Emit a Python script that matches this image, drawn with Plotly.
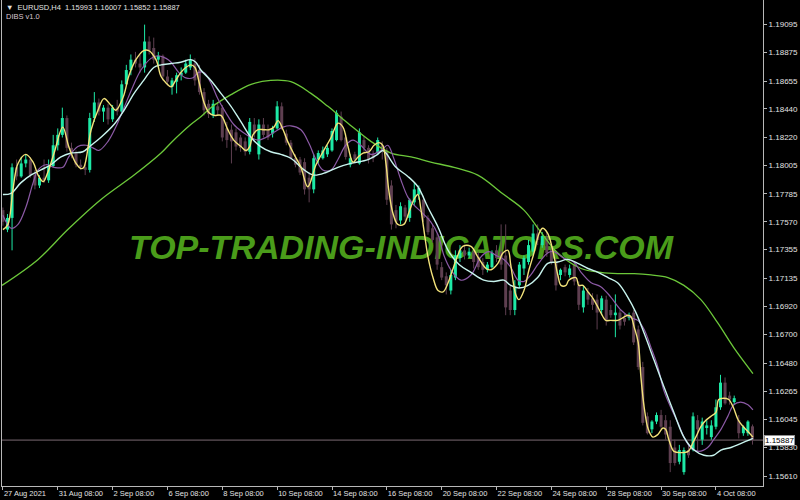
import plotly.graph_objects as go

# EURUSD H4 candles (bar index 0 = 27 Aug 2021 08:00)
opens = [
    1.1766, 1.1751, 1.1760, 1.1799, 1.1792, 1.1802, 1.1805, 1.1793, 1.1785, 1.1791,
    1.1789, 1.1800, 1.1816, 1.1824, 1.1837, 1.1814, 1.1810, 1.1801, 1.1799, 1.1797,
    1.1837, 1.1849, 1.1842, 1.1845, 1.1836, 1.1845, 1.1842, 1.1863, 1.1874, 1.1882,
    1.1879, 1.1876, 1.1896, 1.1891, 1.1882, 1.1885, 1.1869, 1.1861, 1.1865, 1.1870,
    1.1872, 1.1876, 1.1879, 1.1874, 1.1857, 1.1848, 1.1839, 1.1846, 1.1845, 1.1829,
    1.1828, 1.1826, 1.1822, 1.1819, 1.1811, 1.1832, 1.1809, 1.1832, 1.1828, 1.1825,
    1.1829, 1.1846, 1.1825, 1.1818, 1.1806, 1.1805, 1.1803, 1.1791, 1.1782, 1.1805,
    1.1806, 1.1809, 1.1812, 1.1820, 1.1838, 1.1822, 1.1801, 1.1809, 1.1802, 1.1820,
    1.1814, 1.1809, 1.1810, 1.1816, 1.1812, 1.1785, 1.1766, 1.1758, 1.1768, 1.1760,
    1.1772, 1.1778, 1.1774, 1.1760, 1.1752, 1.1745, 1.1722, 1.1715, 1.1704, 1.1714,
    1.1729, 1.1735, 1.1731, 1.1734, 1.1730, 1.1726, 1.1720, 1.1722, 1.1735, 1.1734,
    1.1731, 1.1704, 1.1689, 1.1708, 1.1721, 1.1726, 1.1734, 1.1748, 1.1739, 1.1745,
    1.1735, 1.1726, 1.1716, 1.1722, 1.1716, 1.1724, 1.1708, 1.1691, 1.1703, 1.1698,
    1.1697, 1.1689, 1.1697, 1.1689, 1.1685, 1.1687, 1.1683, 1.1683, 1.1687, 1.1674,
    1.1645, 1.1607, 1.1597, 1.1603, 1.1608, 1.1604, 1.1599, 1.1583, 1.1572, 1.1564,
    1.1581, 1.1581, 1.1604, 1.1589, 1.1598, 1.1591, 1.1599, 1.1614, 1.1633, 1.1623,
    1.1618, 1.1604, 1.1594, 1.1594, 1.15993,
]
highs = [
    1.1768, 1.1763, 1.1802, 1.1805, 1.1807, 1.1809, 1.1807, 1.1797, 1.1793, 1.1805,
    1.1805, 1.1824, 1.1829, 1.1845, 1.1839, 1.1818, 1.1812, 1.1805, 1.1802, 1.1841,
    1.1857, 1.1852, 1.1847, 1.1848, 1.1847, 1.1851, 1.1866, 1.1878, 1.1886, 1.1888,
    1.1886, 1.1909, 1.1900, 1.1899, 1.1888, 1.1886, 1.1874, 1.1868, 1.1872, 1.1876,
    1.1882, 1.1886, 1.1883, 1.1878, 1.1860, 1.1851, 1.1851, 1.1849, 1.1847, 1.1834,
    1.1832, 1.1829, 1.1824, 1.1822, 1.1837, 1.1837, 1.1836, 1.1837, 1.1832, 1.1831,
    1.1850, 1.1849, 1.1828, 1.1820, 1.1809, 1.1807, 1.1806, 1.1795, 1.1809, 1.1812,
    1.1815, 1.1816, 1.1829, 1.1843, 1.1842, 1.1825, 1.1809, 1.1811, 1.1829, 1.1823,
    1.1816, 1.1812, 1.1822, 1.1819, 1.1814, 1.1789, 1.1770, 1.1772, 1.1770, 1.1775,
    1.1787, 1.1785, 1.1777, 1.1762, 1.1755, 1.1748, 1.1726, 1.1718, 1.1720, 1.1735,
    1.1739, 1.1739, 1.1737, 1.1737, 1.1734, 1.1729, 1.1726, 1.1735, 1.1739, 1.1755,
    1.1755, 1.1708, 1.1712, 1.1726, 1.1731, 1.1743, 1.1755, 1.1755, 1.1749, 1.1749,
    1.1739, 1.1729, 1.1721, 1.1724, 1.1724, 1.1726, 1.1711, 1.1708, 1.1706, 1.1702,
    1.1701, 1.1700, 1.1700, 1.1693, 1.1701, 1.1689, 1.1686, 1.1687, 1.1689, 1.1677,
    1.1649, 1.1610, 1.1604, 1.1610, 1.1612, 1.1608, 1.1604, 1.1589, 1.1585, 1.1583,
    1.1585, 1.1610, 1.1608, 1.1606, 1.1604, 1.1604, 1.1620, 1.1639, 1.1637, 1.1626,
    1.1623, 1.1608, 1.1600, 1.1604, 1.16007,
]
lows = [
    1.1754, 1.1749, 1.1735, 1.1789, 1.1791, 1.1799, 1.1791, 1.1782, 1.1783, 1.1787,
    1.1787, 1.1799, 1.1812, 1.1822, 1.1811, 1.1806, 1.1799, 1.1797, 1.1793, 1.1795,
    1.1834, 1.1839, 1.1834, 1.1832, 1.1834, 1.1839, 1.1841, 1.1862, 1.1870, 1.1876,
    1.1872, 1.1872, 1.1886, 1.1879, 1.1876, 1.1866, 1.1862, 1.1855, 1.1856, 1.1866,
    1.1871, 1.1874, 1.1862, 1.1855, 1.1839, 1.1837, 1.1837, 1.1839, 1.1819, 1.1814,
    1.1802, 1.1812, 1.1811, 1.1808, 1.1809, 1.1822, 1.1805, 1.1822, 1.1820, 1.1822,
    1.1828, 1.1828, 1.1816, 1.1805, 1.1799, 1.1793, 1.1778, 1.1772, 1.1779, 1.1802,
    1.1805, 1.1807, 1.1811, 1.1819, 1.1819, 1.1805, 1.1799, 1.1803, 1.1801, 1.1811,
    1.1802, 1.1803, 1.1809, 1.1805, 1.1770, 1.1751, 1.1752, 1.1755, 1.1758, 1.1757,
    1.1770, 1.1774, 1.1757, 1.1747, 1.1741, 1.1720, 1.1712, 1.1701, 1.1701, 1.1712,
    1.1726, 1.1728, 1.1729, 1.1721, 1.1720, 1.1716, 1.1718, 1.1721, 1.1726, 1.1720,
    1.1685, 1.1685, 1.1685, 1.1706, 1.1716, 1.1724, 1.1731, 1.1739, 1.1737, 1.1730,
    1.1724, 1.1704, 1.1712, 1.1715, 1.1714, 1.1708, 1.1689, 1.1687, 1.1693, 1.1689,
    1.1674, 1.1685, 1.1677, 1.1683, 1.1668, 1.1674, 1.1677, 1.1681, 1.1662, 1.1643,
    1.1600, 1.1593, 1.1594, 1.1601, 1.1597, 1.1589, 1.1564, 1.1569, 1.1570, 1.1562,
    1.1575, 1.1580, 1.1580, 1.1585, 1.1593, 1.1589, 1.1597, 1.1612, 1.1616, 1.1616,
    1.1616, 1.1590, 1.1592, 1.1592, 1.15852,
]
closes = [
    1.1757, 1.1760, 1.1799, 1.1792, 1.1802, 1.1805, 1.1793, 1.1785, 1.1791, 1.1789,
    1.1800, 1.1816, 1.1824, 1.1837, 1.1814, 1.1810, 1.1801, 1.1799, 1.1797, 1.1837,
    1.1849, 1.1842, 1.1845, 1.1836, 1.1845, 1.1842, 1.1863, 1.1874, 1.1882, 1.1879,
    1.1876, 1.1896, 1.1889, 1.1882, 1.1885, 1.1869, 1.1865, 1.1866, 1.1870, 1.1872,
    1.1879, 1.1882, 1.1866, 1.1857, 1.1843, 1.1840, 1.1848, 1.1843, 1.1822, 1.1820,
    1.1819, 1.1815, 1.1814, 1.1811, 1.1834, 1.1825, 1.1832, 1.1824, 1.1822, 1.1829,
    1.1846, 1.1829, 1.1818, 1.1806, 1.1801, 1.1795, 1.1782, 1.1782, 1.1806, 1.1810,
    1.1812, 1.1814, 1.1827, 1.1841, 1.1820, 1.1807, 1.1806, 1.1805, 1.1826, 1.1814,
    1.1805, 1.1806, 1.1820, 1.1812, 1.1774, 1.1755, 1.1757, 1.1769, 1.1761, 1.1774,
    1.1782, 1.1783, 1.1760, 1.1749, 1.1743, 1.1724, 1.1714, 1.1708, 1.1716, 1.1731,
    1.1735, 1.1731, 1.1734, 1.1726, 1.1722, 1.1720, 1.1724, 1.1733, 1.1729, 1.1724,
    1.1691, 1.1689, 1.1707, 1.1724, 1.1729, 1.1739, 1.1748, 1.1743, 1.1746, 1.1733,
    1.1726, 1.1708, 1.1720, 1.1718, 1.1721, 1.1711, 1.1693, 1.1704, 1.1697, 1.1693,
    1.1687, 1.1698, 1.1681, 1.1685, 1.1687, 1.1677, 1.1680, 1.1685, 1.1664, 1.1645,
    1.1602, 1.1594, 1.1603, 1.1608, 1.1599, 1.1593, 1.1571, 1.1571, 1.1581, 1.1581,
    1.1577, 1.1607, 1.1597, 1.1603, 1.1600, 1.1600, 1.1614, 1.1633, 1.1617, 1.1620,
    1.1621, 1.1594, 1.1599, 1.1603, 1.15887,
]

# indicator lines (bar index, price)
yellow_x = [
    0, 1.1, 2.2, 3.3, 5.0, 6.6, 7.7, 8.8, 9.8, 11.2,
    13.1, 14.4, 16.0, 17.1, 17.7, 19.3, 20.8, 22.1, 23.6, 24.7,
    26.3, 27.6, 29.1, 30.8, 31.9, 33.5, 34.6, 35.7, 36.8, 37.8,
    38.9, 40.0, 41.1, 42.0, 42.9, 44.0, 45.1, 46.2, 47.7, 49.2,
    50.5, 52.1, 53.2, 54.0, 54.7, 55.8, 57.1, 58.2, 59.3, 60.2,
    61.3, 62.3, 63.7, 65.2, 66.7, 68.5, 70.2, 71.8, 73.3, 74.4,
    75.5, 76.6, 77.7, 78.8, 80.1, 81.2, 82.3, 83.1, 83.8, 84.4,
    85.3, 86.4, 87.7, 88.8, 89.9, 90.8, 91.4, 92.1, 93.0, 94.1,
    95.2, 96.3, 97.4, 98.4, 99.5, 100.6, 102.4, 103.9, 105.7, 106.8,
    108.3, 109.4, 110.5, 111.1, 112.2, 112.9, 114.0, 115.1, 116.2, 117.3,
    118.1, 119.2, 120.3, 121.4, 122.1, 123.2, 123.8, 125.4, 126.0, 126.9,
    128.0, 129.1, 130.2, 130.8, 131.9, 133.0, 134.5, 135.6, 136.7, 137.4,
    138.1, 139.0, 139.6, 140.3, 141.2, 142.2, 143.3, 144.4, 145.0, 145.7,
    146.8, 148.3, 149.9, 151.0, 151.6, 152.7, 153.8, 154.9, 156.0, 156.6,
    157.7, 158.8, 159.8, 160.9, 162.0, 163.1, 164.1,
]
yellow_y = [
    1.1751, 1.1755, 1.1782, 1.1802, 1.1809, 1.1803, 1.1793, 1.1788, 1.1795, 1.1810,
    1.1830, 1.1815, 1.1802, 1.1798, 1.1799, 1.1828, 1.1843, 1.1852, 1.1847, 1.1843,
    1.1853, 1.1870, 1.1882, 1.1889, 1.1889, 1.1882, 1.1869, 1.1864, 1.1861, 1.1866,
    1.1872, 1.1876, 1.1878, 1.1876, 1.1865, 1.1849, 1.1841, 1.1839, 1.1839, 1.1828,
    1.1820, 1.1815, 1.1812, 1.1815, 1.1824, 1.1828, 1.1828, 1.1828, 1.1830, 1.1835,
    1.1828, 1.1819, 1.1809, 1.1799, 1.1784, 1.1801, 1.1812, 1.1822, 1.1833, 1.1830,
    1.1815, 1.1803, 1.1807, 1.1810, 1.1811, 1.1816, 1.1818, 1.1816, 1.1802, 1.1782,
    1.1764, 1.1755, 1.1755, 1.1764, 1.1774, 1.1778, 1.1768, 1.1751, 1.1730, 1.1714,
    1.1704, 1.1703, 1.1710, 1.1720, 1.1731, 1.1738, 1.1738, 1.1730, 1.1721, 1.1720,
    1.1725, 1.1733, 1.1735, 1.1724, 1.1701, 1.1697, 1.1704, 1.1720, 1.1733, 1.1748,
    1.1752, 1.1748, 1.1735, 1.1716, 1.1708, 1.1708, 1.1712, 1.1714, 1.1708, 1.1708,
    1.1703, 1.1698, 1.1691, 1.1687, 1.1681, 1.1681, 1.1681, 1.1683, 1.1685, 1.1684,
    1.1676, 1.1664, 1.1637, 1.1614, 1.1597, 1.1591, 1.1593, 1.1598, 1.1597, 1.1589,
    1.1580, 1.1579, 1.1580, 1.1587, 1.1591, 1.1599, 1.1604, 1.1607, 1.1610, 1.1620,
    1.1621, 1.1620, 1.1614, 1.1604, 1.1599, 1.1595, 1.1591,
]

purple_x = [
    0, 1.8, 3.3, 5.0, 6.6, 7.7, 9.4, 11.2, 13.1, 14.4,
    16.4, 18.2, 19.7, 21.0, 23.0, 24.7, 26.5, 28.4, 30.2, 32.4,
    33.9, 35.7, 36.8, 38.5, 40.0, 41.6, 42.7, 44.0, 45.5, 47.0,
    48.8, 50.5, 52.5, 54.3, 55.8, 57.5, 59.3, 61.3, 63.0, 65.2,
    66.9, 68.5, 70.0, 71.8, 73.3, 75.0, 76.6, 78.3, 80.5, 82.7,
    84.2, 85.5, 87.1, 88.6, 89.9, 91.4, 93.6, 95.2, 96.5, 98.0,
    100.2, 102.4, 104.6, 106.3, 107.9, 109.6, 111.1, 112.7, 114.0, 115.5,
    117.0, 119.2, 120.5, 122.7, 124.9, 126.5, 128.7, 130.8, 133.0, 135.2,
    137.4, 138.9, 140.3, 141.8, 143.3, 144.6, 146.1, 147.7, 149.0, 150.5,
    152.3, 154.2, 155.5, 157.1, 158.6, 159.9, 161.4, 163.0, 164.1,
]
purple_y = [
    1.1762, 1.1752, 1.1755, 1.1768, 1.1787, 1.1797, 1.1801, 1.1799, 1.1799, 1.1807,
    1.1815, 1.1816, 1.1814, 1.1812, 1.1819, 1.1830, 1.1845, 1.1861, 1.1874, 1.1883,
    1.1885, 1.1883, 1.1880, 1.1872, 1.1868, 1.1868, 1.1872, 1.1872, 1.1864, 1.1852,
    1.1841, 1.1832, 1.1826, 1.1822, 1.1820, 1.1822, 1.1826, 1.1830, 1.1831, 1.1828,
    1.1818, 1.1805, 1.1797, 1.1797, 1.1805, 1.1816, 1.1820, 1.1816, 1.1809, 1.1812,
    1.1816, 1.1806, 1.1789, 1.1776, 1.1770, 1.1765, 1.1757, 1.1747, 1.1731, 1.1720,
    1.1712, 1.1716, 1.1730, 1.1734, 1.1731, 1.1728, 1.1722, 1.1712, 1.1711, 1.1716,
    1.1724, 1.1733, 1.1734, 1.1729, 1.1726, 1.1718, 1.1710, 1.1707, 1.1699, 1.1689,
    1.1683, 1.1681, 1.1674, 1.1660, 1.1645, 1.1627, 1.1614, 1.1602, 1.1591, 1.1583,
    1.1580, 1.1583, 1.1589, 1.1597, 1.1607, 1.1616, 1.1618, 1.1616, 1.1612,
]

cyan_x = [
    0, 1.8, 3.9, 6.1, 8.3, 10.5, 12.7, 14.9, 17.5, 19.3,
    21.4, 24.3, 26.5, 28.7, 30.8, 33.0, 34.6, 36.8, 38.9, 41.1,
    42.2, 43.3, 45.5, 47.7, 49.9, 52.1, 54.3, 56.4, 58.6, 60.8,
    63.0, 65.9, 68.0, 70.7, 73.3, 76.1, 79.9, 82.0, 83.1, 83.8,
    86.0, 88.6, 90.8, 93.0, 95.2, 97.4, 99.8, 102.4, 105.2, 107.4,
    109.6, 111.1, 112.9, 114.9, 117.0, 119.2, 121.4, 123.6, 125.8, 128.0,
    130.2, 132.4, 134.5, 136.7, 138.5, 140.3, 142.5, 144.6, 146.8, 149.0,
    151.2, 153.4, 155.5, 157.1, 159.3, 161.4, 164.1,
]
cyan_y = [
    1.1778, 1.1779, 1.1787, 1.1793, 1.1797, 1.1801, 1.1807, 1.1810, 1.1811, 1.1816,
    1.1822, 1.1832, 1.1843, 1.1856, 1.1866, 1.1876, 1.1878, 1.1879, 1.1880, 1.1882,
    1.1880, 1.1874, 1.1866, 1.1856, 1.1846, 1.1834, 1.1822, 1.1815, 1.1811, 1.1809,
    1.1806, 1.1797, 1.1793, 1.1795, 1.1799, 1.1802, 1.1805, 1.1809, 1.1812, 1.1810,
    1.1799, 1.1792, 1.1784, 1.1768, 1.1753, 1.1735, 1.1724, 1.1718, 1.1712, 1.1711,
    1.1712, 1.1708, 1.1706, 1.1708, 1.1714, 1.1725, 1.1726, 1.1728, 1.1725, 1.1721,
    1.1718, 1.1714, 1.1710, 1.1699, 1.1687, 1.1671, 1.1650, 1.1630, 1.1610, 1.1591,
    1.1581, 1.1577, 1.1577, 1.1581, 1.1583, 1.1586, 1.1590,
]

green_x = [
    -0.2, 7.7, 14.2, 21.4, 28.7, 34.6, 36.8, 41.1, 43.3, 45.5,
    49.9, 54.3, 58.6, 63.0, 67.4, 71.1, 75.5, 80.5, 84.9, 89.3,
    93.6, 98.7, 103.9, 109.6, 114.0, 117.7, 121.4, 126.5, 130.8, 134.5,
    138.1, 141.8, 145.5, 149.0, 152.7, 156.4, 159.9, 164.1,
]
green_y = [
    1.1708, 1.1728, 1.1751, 1.1774, 1.1793, 1.1810, 1.1818, 1.1832, 1.1838, 1.1845,
    1.1855, 1.1863, 1.1866, 1.1865, 1.1856, 1.1846, 1.1833, 1.1819, 1.1810, 1.1807,
    1.1803, 1.1799, 1.1793, 1.1778, 1.1766, 1.1749, 1.1733, 1.1721, 1.1718, 1.1717,
    1.1717, 1.1716, 1.1714, 1.1708, 1.1697, 1.1679, 1.1660, 1.1640,
]

date_ticks = [0, 12, 24, 36, 48, 60, 72, 84, 96, 108, 120, 132, 144, 156]
date_labels = ["27 Aug 2021", "31 Aug 08:00", "2 Sep 08:00", "6 Sep 08:00", "8 Sep 08:00",
               "10 Sep 08:00", "14 Sep 08:00", "16 Sep 08:00", "20 Sep 08:00", "22 Sep 08:00",
               "24 Sep 08:00", "28 Sep 08:00", "30 Sep 08:00", "4 Oct 08:00"]
price_ticks = [1.19095, 1.18875, 1.18655, 1.18440, 1.18220, 1.18005, 1.17785, 1.17570, 1.17355,
               1.17135, 1.16920, 1.16700, 1.16480, 1.16265, 1.16045, 1.15830, 1.15610]
last_price = 1.15887

BULL = '#1de9a6'
BEAR = '#5e3f50'
TXT = '#e2e2e2'
FRAME = '#b8b8b8'
FONT = 'Liberation Sans'


def candle_lines(bull):
    wx, wy, bx, by = [], [], [], []
    for i, (o, h, l, c) in enumerate(zip(opens, highs, lows, closes)):
        if (c >= o) != bull:
            continue
        wx += [i, i, None]
        wy += [l, h, None]
        bx += [i, i, None]
        by += [o, c, None]
    return wx, wy, bx, by


fig = go.Figure()

# watermark first so candles and lines sit on top of it
fig.add_trace(go.Scatter(
    x=[87.1], y=[1.17345], mode='text', text=['TOP-TRADING-INDICATORS.COM'],
    textfont=dict(family='Liberation Sans', size=34, color='#4a9c1a', weight='bold', style='italic'),
    hoverinfo='skip'))

for bull, col in [(False, BEAR), (True, BULL)]:
    wx, wy, bx, by = candle_lines(bull)
    fig.add_trace(go.Scatter(x=wx, y=wy, mode='lines', line=dict(color=col, width=1), hoverinfo='skip'))
    fig.add_trace(go.Scatter(x=bx, y=by, mode='lines', line=dict(color=col, width=3), hoverinfo='skip'))

fig.add_trace(go.Scatter(x=green_x, y=green_y, mode='lines', line=dict(color='#6cc83a', width=1.3, shape='spline')))
fig.add_trace(go.Scatter(x=purple_x, y=purple_y, mode='lines', line=dict(color='#8c5aa6', width=1.2, shape='spline')))
fig.add_trace(go.Scatter(x=cyan_x, y=cyan_y, mode='lines', line=dict(color='#c8f4ee', width=1.4, shape='spline')))
fig.add_trace(go.Scatter(x=yellow_x, y=yellow_y, mode='lines', line=dict(color='#f2e27a', width=1.4, shape='spline')))

# bid line
fig.add_hline(y=last_price, line=dict(color='#7a6a72', width=1), layer='below')

fig.add_annotation(xref='paper', yref='y', x=1, y=last_price, xanchor='left', yanchor='middle',
                   xshift=1, text='1.15887', showarrow=False, bgcolor='white', bordercolor='#909090',
                   borderwidth=1, borderpad=0, font=dict(family=FONT, size=8, color='black'))

fig.add_annotation(xref='paper', yref='paper', x=0.0, y=1, xanchor='left', yanchor='top', xshift=2, yshift=-1,
                   text='\u25bc  EURUSD,H4  1.15993 1.16007 1.15852 1.15887', showarrow=False,
                   font=dict(family=FONT, size=7.5, color=TXT))
fig.add_annotation(xref='paper', yref='paper', x=0.0, y=1, xanchor='left', yanchor='top', xshift=2, yshift=-10,
                   text='DIBS v1.0', showarrow=False, font=dict(family=FONT, size=7.5, color='#d8c6d0'))

fig.update_xaxes(range=[-0.2, 166.3], tickvals=date_ticks, ticktext=date_labels,
                 ticks='outside', ticklen=3, tickcolor=FRAME, ticklabelposition='outside right',
                 tickfont=dict(family=FONT, size=7.5, color=TXT), showgrid=False, zeroline=False,
                 showline=True, linecolor=FRAME, linewidth=1, fixedrange=True)
fig.update_yaxes(range=[1.15533, 1.19280], side='right', tickvals=price_ticks,
                 ticktext=[f'{p:.5f}' for p in price_ticks], ticks='outside', ticklen=3, tickcolor=FRAME,
                 tickfont=dict(family=FONT, size=8, color=TXT), showgrid=False, zeroline=False,
                 showline=True, mirror=True, linecolor=FRAME, linewidth=1, fixedrange=True)
fig.update_layout(width=800, height=500, paper_bgcolor='black', plot_bgcolor='black', showlegend=False,
                  margin=dict(l=2, r=37, t=0, b=14), hovermode=False)

fig.write_html("out.html", config={'displayModeBar': False},
               post_script="document.body.style.margin='0';document.body.style.background='black';")
